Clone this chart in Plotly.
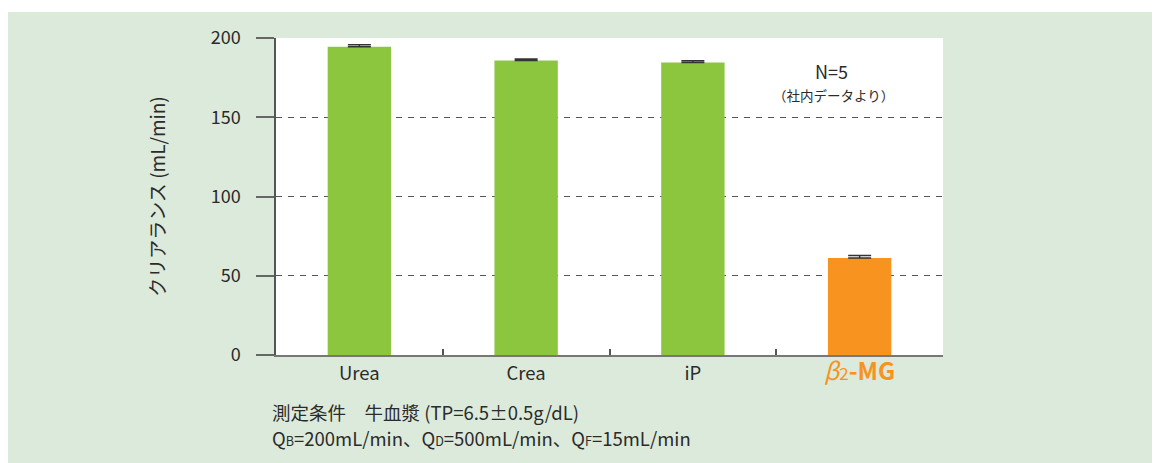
import plotly.graph_objects as go

categories = ["Urea", "Crea", "iP", "β2-MG"]
tick_labels = ["Urea", "Crea", "iP",
               "<span style='color:#f7931e;font-size:24px'><i>β</i><span style='font-size:17px'>2</span><b>-MG</b></span>"]
clearance = [194.5, 185.8, 184.6, 61.2]
sd = [1.3, 1.0, 1.0, 1.6]
sd_minus = [0, 0, 0, 0]
bar_colors = ["#8cc63f", "#8cc63f", "#8cc63f", "#f7931e"]
y_ticks = [0, 50, 100, 150, 200]
grid_vals = [50, 100, 150]

W, H = 1160, 463
OFF = 8  # page body margin
# plot area in page pixels: x 276..943, y 38..355
L, R, T, B = 276 - OFF, W - (943 - OFF), 38 - OFF, H - (355 - OFF)
pw, ph = W - L - R, H - T - B
def px(x): return (x - OFF - L) / pw
def py(y): return (H - B - (y - OFF)) / ph

BG = "#dceadb"
TXT = "#2b2b2b"
FONT = "Noto Sans CJK JP"

fig = go.Figure(go.Bar(
    x=categories, y=clearance, width=0.38,
    marker=dict(color=bar_colors, line=dict(width=0)),
    error_y=dict(type="data", symmetric=False, array=sd, arrayminus=sd_minus, visible=True,
                 color="#333", thickness=1.5, width=11.5),
))

fig.update_layout(
    width=W, height=H,
    margin=dict(l=L, r=R, t=T, b=B, autoexpand=False),
    paper_bgcolor=BG, plot_bgcolor="white",
    font=dict(family=FONT, color=TXT, size=18),
    showlegend=False,
    xaxis=dict(
        range=[-0.5, 3.5], tickmode="array", tickvals=categories, ticktext=tick_labels,
        tickson="boundaries", ticks="inside", ticklen=6, tickwidth=1.5, tickcolor="#555",
        showline=True, linecolor="#777", linewidth=2, showgrid=False,
        tickfont=dict(size=18.5, color=TXT), ticklabelstandoff=1,
    ),
    yaxis=dict(
        range=[0, 200], tickmode="array", tickvals=y_ticks,
        ticks="outside", ticklen=18, tickwidth=2, tickcolor="#666",
        showline=True, linecolor="#555", linewidth=1.5, showgrid=False, zeroline=False,
        ticklabelstandoff=12, tickfont=dict(size=18, color=TXT),
        minor=dict(tickvals=grid_vals, showgrid=True, gridcolor="#555", griddash="6px,6px",
                   gridwidth=1, ticks=""),
        title=dict(text="クリアランス (mL/min)", font=dict(size=19, color=TXT), standoff=40),
    ),
    shapes=[
        dict(type="rect", xref="paper", yref="paper", x0=px(-20), x1=px(W + 20), y0=py(12), y1=py(-20),
             fillcolor="white", line=dict(width=0), layer="below"),
    ],
    annotations=[
        dict(text="N=5", xref="paper", yref="paper", x=px(831), y=py(71), xanchor="center",
             yanchor="middle", showarrow=False, font=dict(size=18, color=TXT)),
        dict(text="（社内データより）", xref="paper", yref="paper", x=px(833), y=py(95), xanchor="center",
             yanchor="middle", showarrow=False, font=dict(size=13.5, color=TXT)),
        dict(text="測定条件　牛血漿 (TP=6.5±0.5g/dL)", xref="paper", yref="paper",
             x=px(270), y=py(412), xanchor="left", yanchor="middle", showarrow=False,
             font=dict(size=18.5, color=TXT)),
        dict(text="Q<span style='font-size:12.5px'>B</span>=200mL/min、Q<span style='font-size:12.5px'>D</span>=500mL/min、Q<span style='font-size:12.5px'>F</span>=15mL/min",
             xref="paper", yref="paper", x=px(270), y=py(438), xanchor="left", yanchor="middle",
             showarrow=False, font=dict(size=18.5, color=TXT)),
    ],
)

fig.write_html("out.html")
